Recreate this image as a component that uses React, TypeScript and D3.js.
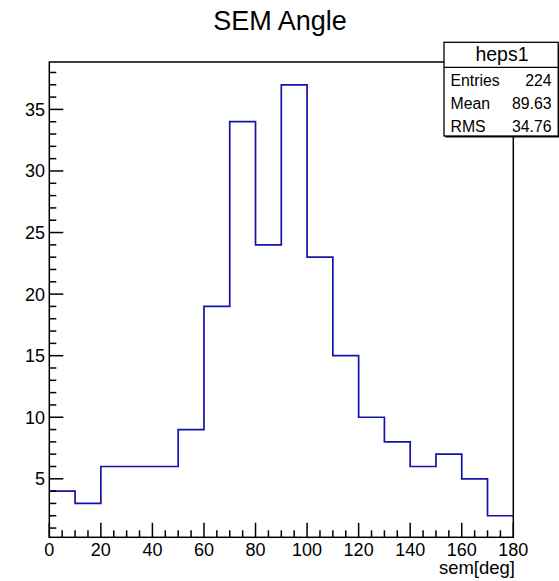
import React from "react";
import * as d3 from "d3";

const binEdges = [0, 10, 20, 30, 40, 50, 60, 70, 80, 90, 100, 110, 120, 130, 140, 150, 160, 170, 180];
const counts = [4, 3, 6, 6, 6, 9, 19, 34, 24, 37, 23, 15, 10, 8, 6, 7, 5, 2];
const xTicks = [0, 20, 40, 60, 80, 100, 120, 140, 160, 180];
const yTicks = [5, 10, 15, 20, 25, 30, 35];
const statsLabels = ["Entries", "Mean", "RMS"];
const statsValues = ["224", "89.63", "34.76"];
const title = "SEM Angle";
const histName = "heps1";
const xTitle = "sem[deg]";

const W = 559;
const H = 581;
const L = 49.3, R = 513.3, T = 62, B = 537.3;
const FONT = "'Liberation Sans', Arial, Helvetica, sans-serif";

export default function App() {
  const x = d3.scaleLinear().domain([0, 180]).range([L, R]);
  const y = d3.scaleLinear().domain([0.25, 38.85]).range([B, T]);

  const xMinor = d3.range(0, 181, 5).filter((v) => v % 20 !== 0);
  const yMinor = d3.range(1, 39, 1).filter((v) => v % 5 !== 0);

  let path = `M${x(binEdges[0])},${y(counts[0])}`;
  counts.forEach((c, i) => {
    if (i > 0) path += `V${y(c)}`;
    path += `H${x(binEdges[i + 1])}`;
  });

  const bx = 444, by = 42.3, bw = 114.2, bh = 93.7;

  return (
    <svg width={W} height={H} style={{ position: "absolute", left: 0, top: 0, background: "#fff" }} fontFamily={FONT}>
      <rect x={0} y={0} width={W} height={H} fill="#fff" />
      <text x={280} y={29.5} fontSize={27} textAnchor="middle" fill="#000">{title}</text>

      {/* histogram */}
      <path d={path} fill="none" stroke="#1414aa" strokeWidth={1.7} />

      {/* frame */}
      <rect x={L} y={T} width={R - L} height={B - T} fill="none" stroke="#000" strokeWidth={1.5} />

      {/* x ticks */}
      {xTicks.map((v) => (
        <g key={"xt" + v}>
          <line x1={x(v)} x2={x(v)} y1={B} y2={B - 14.5} stroke="#000" strokeWidth={1.5} />
          <text x={x(v)} y={555.5} fontSize={18} textAnchor="middle" fill="#000">{v}</text>
        </g>
      ))}
      {xMinor.map((v) => (
        <line key={"xm" + v} x1={x(v)} x2={x(v)} y1={B} y2={B - 7} stroke="#000" strokeWidth={1.5} />
      ))}

      {/* y ticks */}
      {yTicks.map((v) => (
        <g key={"yt" + v}>
          <line x1={L} x2={L + 14} y1={y(v)} y2={y(v)} stroke="#000" strokeWidth={1.5} />
          <text x={45} y={y(v) + 6.5} fontSize={18} textAnchor="end" fill="#000">{v}</text>
        </g>
      ))}
      {yMinor.map((v) => (
        <line key={"ym" + v} x1={L} x2={L + 7} y1={y(v)} y2={y(v)} stroke="#000" strokeWidth={1.5} />
      ))}

      <text x={515} y={574} fontSize={18.5} textAnchor="end" fill="#000">{xTitle}</text>

      {/* stats box */}
      <rect x={bx + 1.5} y={by + 1.5} width={bw} height={bh} fill="#000" />
      <rect x={bx} y={by} width={bw} height={bh} fill="#fff" stroke="#000" strokeWidth={1.3} />
      <line x1={bx} x2={bx + bw} y1={67.3} y2={67.3} stroke="#000" strokeWidth={1.3} />
      <text x={502} y={61} fontSize={19.5} textAnchor="middle" fill="#000">{histName}</text>
      {statsLabels.map((lab, i) => (
        <g key={lab}>
          <text x={450.5} y={85.5 + i * 23} fontSize={15.8} fill="#000">{lab}</text>
          <text x={551.5} y={85.5 + i * 23} fontSize={15.8} textAnchor="end" fill="#000">{statsValues[i]}</text>
        </g>
      ))}
    </svg>
  );
}
